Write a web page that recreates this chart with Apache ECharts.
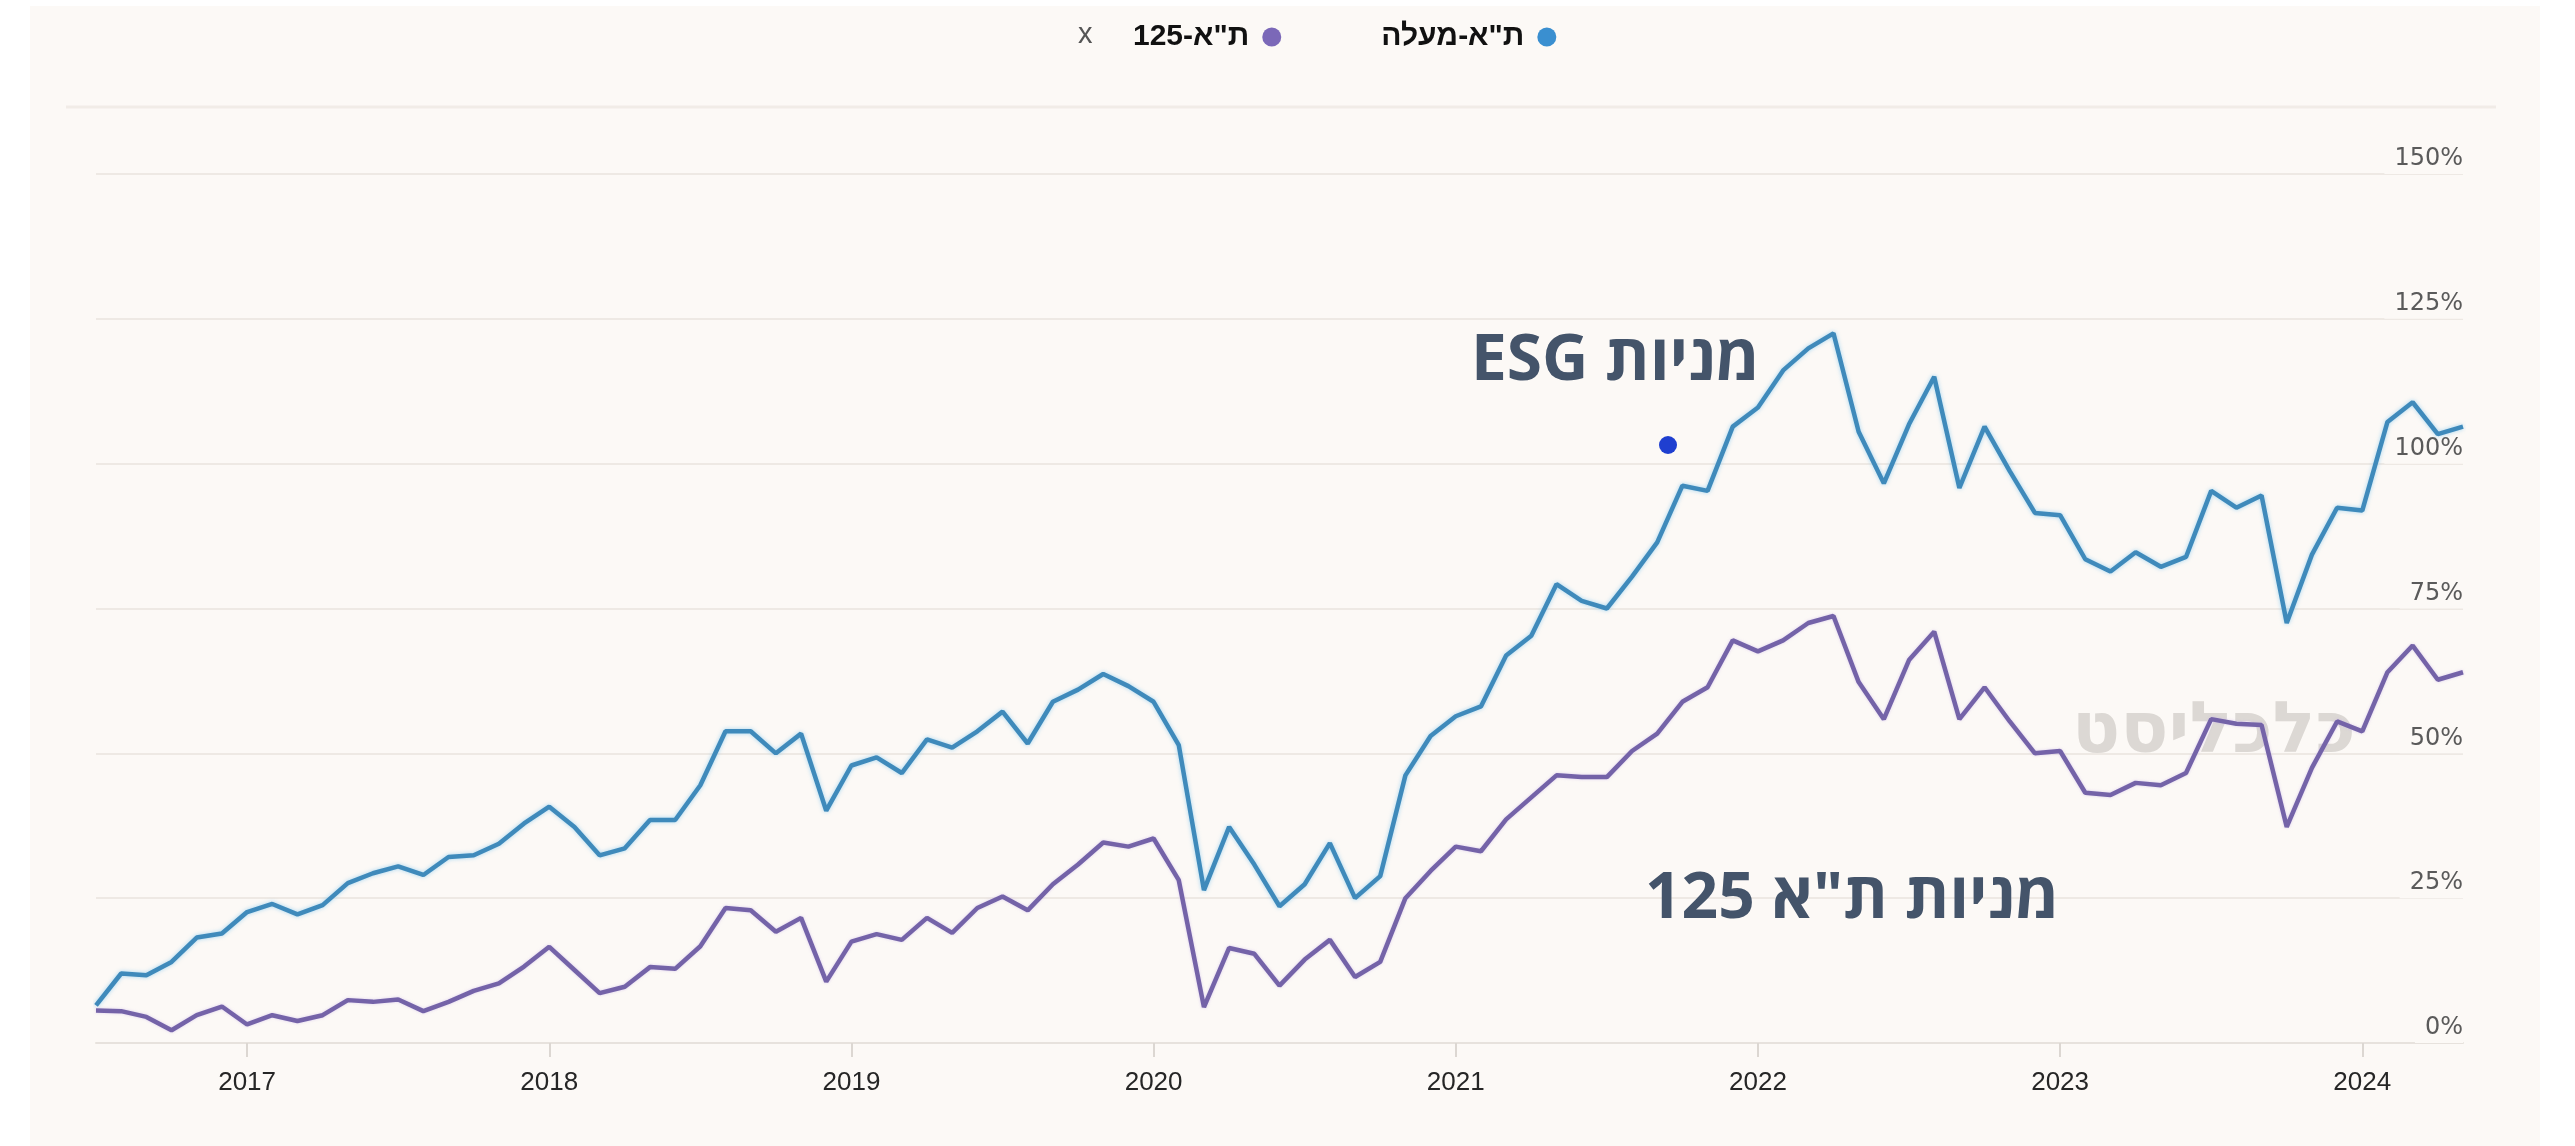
<!DOCTYPE html>
<html>
<head>
<meta charset="utf-8">
<script src="https://cdn.jsdelivr.net/npm/echarts@6/dist/echarts.min.js"></script>
<style>
html,body{margin:0;padding:0;background:#ffffff;}
#chart{position:absolute;left:0;top:0;width:2575px;height:1146px;direction:rtl;}
</style>
</head>
<body>
<div id="chart" dir="rtl"></div>
<script>
const months = [
 '2016-07','2016-08','2016-09','2016-10','2016-11','2016-12',
 '2017-01','2017-02','2017-03','2017-04','2017-05','2017-06','2017-07','2017-08','2017-09','2017-10','2017-11','2017-12',
 '2018-01','2018-02','2018-03','2018-04','2018-05','2018-06','2018-07','2018-08','2018-09','2018-10','2018-11','2018-12',
 '2019-01','2019-02','2019-03','2019-04','2019-05','2019-06','2019-07','2019-08','2019-09','2019-10','2019-11','2019-12',
 '2020-01','2020-02','2020-03','2020-04','2020-05','2020-06','2020-07','2020-08','2020-09','2020-10','2020-11','2020-12',
 '2021-01','2021-02','2021-03','2021-04','2021-05','2021-06','2021-07','2021-08','2021-09','2021-10','2021-11','2021-12',
 '2022-01','2022-02','2022-03','2022-04','2022-05','2022-06','2022-07','2022-08','2022-09','2022-10','2022-11','2022-12',
 '2023-01','2023-02','2023-03','2023-04','2023-05','2023-06','2023-07','2023-08','2023-09','2023-10','2023-11','2023-12',
 '2024-01','2024-02','2024-03','2024-04','2024-05'
];

// ת"א-מעלה (ESG stocks), % return
const taMaala = [
 6.5,12.0,11.7,14.0,18.2,18.9,
 22.6,24.0,22.2,23.8,27.6,29.3,30.5,29.0,32.1,32.4,34.4,37.9,
 40.8,37.3,32.4,33.6,38.5,38.5,44.5,53.8,53.8,50.0,53.4,40.1,
 47.9,49.3,46.6,52.4,51.0,53.8,57.2,51.7,58.9,61.0,63.7,61.6,
 58.9,51.4,26.4,37.3,30.8,23.6,27.4,34.5,25.0,28.8,46.2,53.0,
 56.4,58.1,66.9,70.3,79.2,76.3,75.0,80.5,86.4,96.2,95.3,106.4,
 109.7,116.1,119.9,122.5,105.5,96.6,106.8,115.0,95.8,106.4,98.7,91.5,
 91.1,83.5,81.4,84.7,82.2,83.9,95.3,92.4,94.5,72.5,84.3,92.4,
 91.9,107.2,110.6,105.1,106.4
];

// ת"א-125, % return
const ta125 = [
 5.6,5.5,4.5,2.2,4.8,6.3,
 3.2,4.8,3.8,4.8,7.4,7.1,7.5,5.5,7.1,9.0,10.3,13.2,
 16.6,12.6,8.6,9.7,13.1,12.8,16.7,23.3,22.9,19.2,21.6,10.6,
 17.5,18.8,17.8,21.6,19.0,23.3,25.3,22.9,27.4,30.8,34.6,33.9,
 35.3,28.1,6.2,16.4,15.4,9.9,14.4,17.8,11.4,14.0,25.0,29.7,
 33.9,33.1,38.6,42.4,46.2,45.9,45.9,50.4,53.4,58.9,61.4,69.5,
 67.6,69.5,72.5,73.7,62.3,55.9,66.1,71.0,55.9,61.4,55.5,50.0,
 50.4,43.2,42.8,44.9,44.5,46.6,55.9,55.1,54.9,37.3,47.5,55.5,
 53.8,64.0,68.6,62.7,64.0
];

const seriesNames = ['ת"א-125', 'ת"א-מעלה'];
const labelEsg = 'מניות ESG';
const label125 = 'מניות ת"א 125';
const watermark = 'כלכליסט';

const BG = '#fcf9f6';
const isJan = (i, v) => String(v).slice(5) === '01';

const chart = echarts.init(document.getElementById('chart'), null, {renderer: 'canvas'});
chart.setOption({
  animation: false,
  backgroundColor: '#ffffff',
  grid: {left: 96, right: 112, top: 174, bottom: 103},
  legend: {
    data: seriesNames,
    left: 1128, top: 17,
    align: 'right',
    icon: 'circle',
    itemWidth: 19, itemHeight: 19,
    itemGap: 100,
    textStyle: {fontSize: 30, fontWeight: 'bold', color: '#111111', padding: [0, 8, 0, 0],
      fontFamily: 'Liberation Sans, DejaVu Sans, sans-serif'}
  },
  xAxis: {
    type: 'category',
    data: months,
    boundaryGap: false,
    axisLine: {lineStyle: {color: '#e7e2dd', width: 2}},
    axisTick: {interval: isJan, length: 14, lineStyle: {color: '#dcd7d2', width: 2}},
    axisLabel: {
      interval: isJan,
      formatter: v => v.slice(0, 4),
      margin: 27,
      fontSize: 26,
      color: '#262626',
      fontFamily: 'Liberation Sans Narrow, Liberation Sans, sans-serif'
    },
    splitLine: {show: false}
  },
  yAxis: {
    type: 'value',
    position: 'right',
    min: 0, max: 150, interval: 25,
    axisLine: {show: false},
    axisTick: {show: false},
    axisLabel: {
      inside: true,
      formatter: '{value}%',
      align: 'right',
      verticalAlign: 'bottom',
      margin: 0,
      padding: [2, 0, 3, 10],
      backgroundColor: BG,
      color: '#5a5a5a',
      fontSize: 24,
      fontFamily: 'DejaVu Sans, sans-serif'
    },
    splitLine: {lineStyle: {color: '#eee9e4', width: 2}}
  },
  graphic: [
    {type: 'rect', z: -100, silent: true, shape: {x: 30, y: 6, width: 2510, height: 1140}, style: {fill: BG}},
    {type: 'line', z: -90, silent: true, shape: {x1: 66, y1: 107, x2: 2496, y2: 107}, style: {stroke: '#f1ece7', lineWidth: 3}},
    {type: 'text', z: 10, left: 1078, top: 20, style: {text: 'x', fill: '#555', font: '29px Liberation Sans'}},
    {type: 'text', z: -50, silent: true, left: 2072, top: 698,
      style: {text: watermark, fill: '#dcd8d4', font: '900 71px DejaVu Sans'}},
    {type: 'text', z: 20, left: 1471, top: 330,
      style: {text: labelEsg, fill: '#44546a', font: 'bold 64px Open Sans, DejaVu Sans, sans-serif'}},
    {type: 'text', z: 20, left: 1645, top: 868,
      style: {text: label125, fill: '#44546a', font: 'bold 64px Open Sans, DejaVu Sans, sans-serif'}},
    {type: 'circle', z: 20, shape: {cx: 1668, cy: 445, r: 9}, style: {fill: '#1f3fd0'}}
  ],
  series: [
    {
      name: seriesNames[1], type: 'line', data: taMaala,
      showSymbol: false, symbol: 'none',
      lineStyle: {color: '#3f8abb', width: 4.5, shadowColor: 'rgba(130,200,240,0.7)', shadowBlur: 4},
      itemStyle: {color: '#3a8fd0'}, z: 3
    },
    {
      name: seriesNames[0], type: 'line', data: ta125,
      showSymbol: false, symbol: 'none',
      lineStyle: {color: '#7463a8', width: 4.5, shadowColor: 'rgba(200,180,235,0.6)', shadowBlur: 3},
      itemStyle: {color: '#7b68b8'}, z: 3
    }
  ]
});
</script>
</body>
</html>
